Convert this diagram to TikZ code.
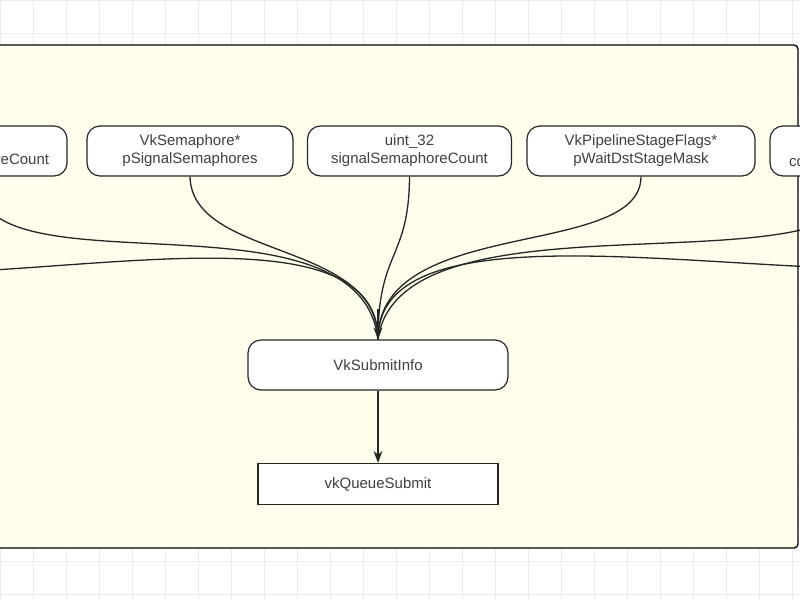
\documentclass[tikz,border=0pt]{standalone}
\usepackage{fontspec}
\setmainfont{Liberation Sans}
\usetikzlibrary{arrows.meta}
\begin{document}
\begin{tikzpicture}[x=1pt,y=-1pt,
 box/.style={draw=black!85,line width=1.2pt,fill=white,rounded corners=13pt,minimum height=50pt,align=center,font=\fontsize{15}{18}\selectfont,text=black!75,inner sep=2pt},
 rbox/.style={draw=black!85,line width=1.2pt,fill=white,minimum height=41pt,align=center,font=\fontsize{15}{18}\selectfont,text=black!75},
 con/.style={line width=1.3pt,black!85},
 arr/.style={con,-{Stealth[length=12pt,width=9pt]}}]
\useasboundingbox (0,0) rectangle (800,600);
\fill[white] (0,0) rectangle (800,600);
\foreach \x in {0,33,...,800} \draw[black!8] (\x,0) -- (\x,600);
\foreach \y in {0,33,...,600} \draw[black!8] (0,\y) -- (800,\y);
\clip (0,0) rectangle (800,600);
\draw[line width=1.3pt,fill=yellow!7,rounded corners=4pt] (-20,45) rectangle (798,548);
\node[box,minimum width=206pt] (a) at (190,151) {VkSemaphore*\\pSignalSemaphores};
\node[box,minimum width=204pt] (b) at (409.5,151) {uint\_32\\signalSemaphoreCount};
\node[box,minimum width=228pt] (c) at (641,151) {VkPipelineStageFlags*\\pWaitDstStageMask};
\node[box,minimum width=180pt] (l) at (-23,151) {\strut\\waitSemaphoreCount};
\node[box,minimum width=184pt] (r) at (862,151) {\strut\\commandBufferCount};
\coordinate (l2) at (-300,176);
\coordinate (r2) at (1110,176);
\node[box,minimum width=260pt] (s) at (378,365) {VkSubmitInfo};
\node[rbox,minimum width=240pt] (q) at (378,484) {vkQueueSubmit};
\draw[con] (a.south) .. controls (192,260) and (378,240) .. (s.north);
\draw[con] (b.south) .. controls (409,260) and (378,250) .. (s.north);
\draw[con] (c.south) .. controls (641,260) and (378,215) .. (s.north);
\draw[con] (l.south) .. controls (-30,300) and (360,180) .. (s.north);
\draw[con] (l2) .. controls (-300,400) and (378,140) .. (s.north);
\draw[con] (r.south) .. controls (870,300) and (400,180) .. (s.north);
\draw[con] (r2) .. controls (1110,390) and (378,140) .. (s.north);
\draw[arr] (s.north) ++(0,-30) -- (s.north);
\draw[arr] (s) -- (q);
\end{tikzpicture}
\end{document}
